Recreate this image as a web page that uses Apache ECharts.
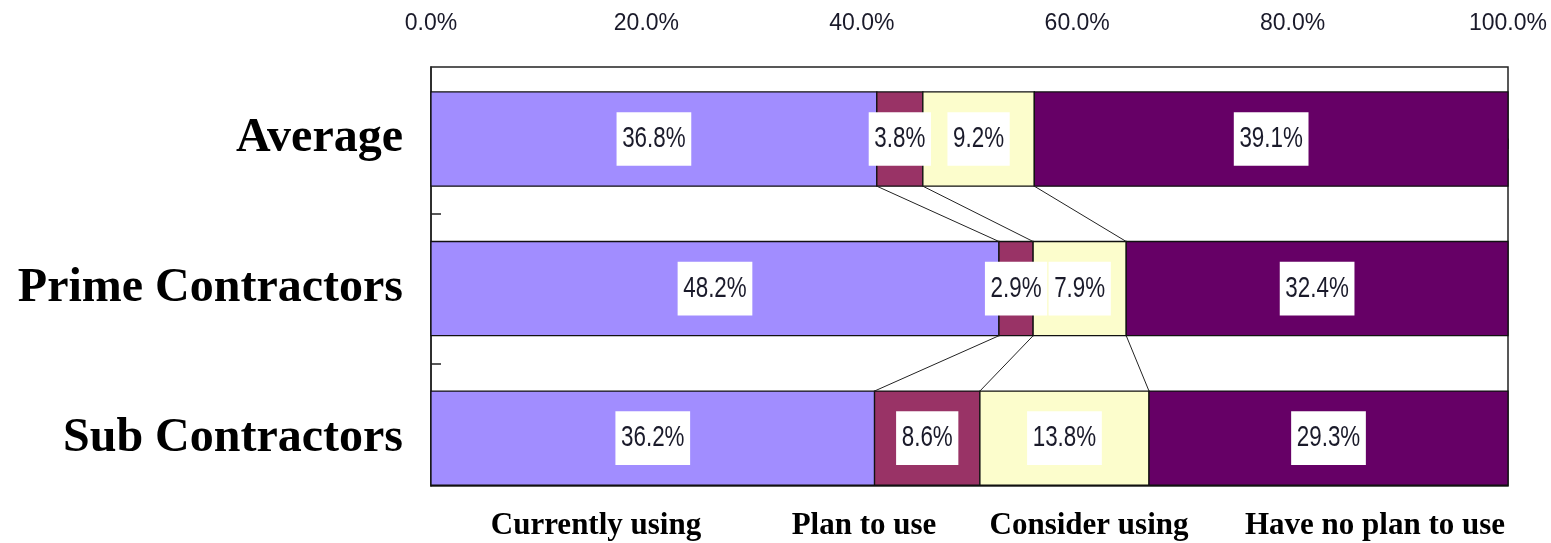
<!DOCTYPE html>
<html>
<head>
<meta charset="utf-8">
<script src="https://cdn.jsdelivr.net/npm/echarts@6/dist/echarts.min.js"></script>
<style>
  html, body { margin: 0; padding: 0; background: #fff; }
  #usage { width: 1551px; height: 543px; }
</style>
</head>
<body>
<div id="usage"></div>
<script>
// categories (rows, top to bottom)
var categories = ['Average', 'Prime Contractors', 'Sub Contractors'];
// answers (stack order, left to right)
var answers = ['Currently using', 'Plan to use', 'Consider using', 'Have no plan to use'];
var currentlyUsing = [36.8, 48.2, 36.2];
var planToUse = [3.8, 2.9, 8.6];
var considerUsing = [9.2, 7.9, 13.8];
var noPlan = [39.1, 32.4, 29.3];
var xTicks = [0, 20, 40, 60, 80, 100];

var colors = ['#A18DFF', '#993366', '#FCFDCC', '#660066'];
var sansFont = '"Liberation Sans", Arial, sans-serif';
var serifFont = '"Liberation Serif", "Times New Roman", serif';

function DrawUsage() {
    var chart = echarts.init(document.getElementById('usage'));
    var values = [currentlyUsing, planToUse, considerUsing, noPlan];

    // the bars are scaled to 100% per row (answers do not add up to 100)
    var rowTotal = categories.map(function (c, i) {
        return values.reduce(function (s, arr) { return s + arr[i]; }, 0);
    });
    var cumEnd = [];   // cumEnd[k][i] = right edge of segment k in row i
    var segments = values.map(function (arr, k) {
        cumEnd.push([]);
        return arr.map(function (v, i) {
            var start = k === 0 ? 0 : cumEnd[k - 1][i];
            var end = start + v / rowTotal[i] * 100;
            cumEnd[k].push(end);
            return [start, end, i, v];
        });
    });

    var barFrac = 0.63;

    function renderSegment(color) {
        return function (params, api) {
            var s = api.coord([api.value(0), api.value(2)]);
            var e = api.coord([api.value(1), api.value(2)]);
            var h = api.size([0, 1])[1] * barFrac;
            return {
                type: 'group',
                children: [{
                    type: 'rect',
                    shape: { x: s[0], y: s[1] - h / 2, width: e[0] - s[0], height: h },
                    style: { fill: color, stroke: '#111', lineWidth: 1.3 }
                }, {
                    // narrow look: squeeze the label horizontally
                    type: 'text',
                    z2: 100,
                    x: (s[0] + e[0]) / 2,
                    y: s[1],
                    scaleX: 0.8,
                    scaleY: 1.05,
                    style: {
                        x: 0,
                        y: 0,
                        text: api.value(3).toFixed(1) + '%',
                        align: 'center',
                        verticalAlign: 'middle',
                        fill: '#1a1a2a',
                        font: '28px ' + sansFont,
                        backgroundColor: '#fff',
                        padding: [12, 7, 11, 7]
                    }
                }]
            };
        };
    }

    // series lines between neighbouring rows
    var connectors = [];
    for (var k = 0; k < 3; k++) {
        for (var i = 0; i < categories.length - 1; i++) {
            connectors.push([cumEnd[k][i], i, cumEnd[k][i + 1], i + 1]);
        }
    }

    var series = segments.map(function (data, k) {
        return {
            name: answers[k],
            type: 'custom',
            renderItem: renderSegment(colors[k]),
            encode: { x: [0, 1], y: 2 },
            clip: false,
            data: data
        };
    });
    series.push({
        type: 'custom',
        silent: true,
        encode: { x: [0, 2], y: [1, 3] },
        renderItem: function (params, api) {
            var h = api.size([0, 1])[1] * barFrac;
            var a = api.coord([api.value(0), api.value(1)]);
            var b = api.coord([api.value(2), api.value(3)]);
            return {
                type: 'line',
                shape: { x1: a[0], y1: a[1] + h / 2, x2: b[0], y2: b[1] - h / 2 },
                style: { stroke: '#222', lineWidth: 1 }
            };
        },
        data: connectors
    });

    var legendX = [596, 864, 1089, 1375];

    var option = {
        animation: false,
        grid: {
            left: 431, right: 43, top: 67, bottom: 57,
            outerBoundsMode: 'none',
            containLabel: false,
            show: true, borderColor: '#222', borderWidth: 1.5
        },
        xAxis: {
            type: 'value',
            position: 'top',
            min: 0, max: 100, interval: 20,
            axisLine: { show: true, lineStyle: { color: '#222', width: 1.5 } },
            axisTick: { show: true, inside: true, length: 10, lineStyle: { color: '#222', width: 1.5 } },
            splitLine: { show: false },
            axisLabel: {
                margin: 32,
                color: '#1a1a2a',
                fontSize: 23,
                fontFamily: sansFont,
                customValues: xTicks,
                formatter: function (v) { return v.toFixed(1) + '%'; }
            }
        },
        yAxis: {
            type: 'value',
            inverse: true,
            min: -0.482, max: 2.32,
            axisLine: { show: true, lineStyle: { color: '#222', width: 1.5 } },
            axisTick: { show: true, inside: true, length: 10, customValues: [0.5, 1.5], lineStyle: { color: '#222', width: 1.5 } },
            splitLine: { show: false },
            axisLabel: {
                margin: 28,
                color: '#000',
                fontSize: 48,
                fontWeight: 'bold',
                fontFamily: serifFont,
                customValues: [0, 1, 2],
                formatter: function (v) { return categories[Math.round(v)]; }
            }
        },
        graphic: answers.map(function (name, k) {
            return {
                type: 'text',
                x: legendX[k],
                y: 526,
                style: {
                    text: name,
                    align: 'center',
                    verticalAlign: 'middle',
                    fill: '#000',
                    font: 'bold 31px ' + serifFont
                }
            };
        }),
        series: series
    };
    chart.setOption(option);
}

DrawUsage();
</script>
</body>
</html>
